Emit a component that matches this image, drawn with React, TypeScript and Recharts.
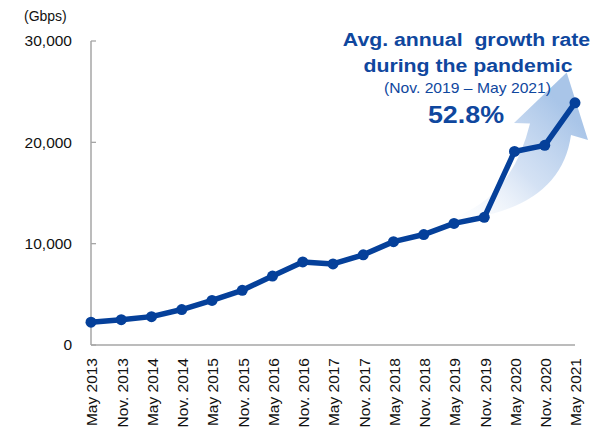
import { LineChart, Line, XAxis, YAxis } from 'recharts'

const periods = [
  'May 2013', 'Nov. 2013', 'May 2014', 'Nov. 2014', 'May 2015', 'Nov. 2015',
  'May 2016', 'Nov. 2016', 'May 2017', 'Nov. 2017', 'May 2018', 'Nov. 2018',
  'May 2019', 'Nov. 2019', 'May 2020', 'Nov. 2020', 'May 2021',
]
const traffic = [
  2250, 2500, 2800, 3500, 4400, 5400,
  6800, 8200, 8000, 8900, 10200, 10900,
  12000, 12600, 19100, 19700, 23900,
]
const yTicks = [0, 10000, 20000, 30000]
const unitLabel = '(Gbps)'
const noteTitle = ['Avg. annual  growth rate', 'during the pandemic']
const notePeriod = '(Nov. 2019 \u2013 May 2021)'
const noteRate = '52.8%'

const data = periods.map((period, i) => ({ period, value: traffic[i] }))

const FONT = '"Liberation Sans", Arial, sans-serif'
const LINE = '#05409a'
const NOTE = '#0f479e'
const AXIS = '#a6a6a6'

function YTick({ x, y, payload }: any) {
  return (
    <g>
      <line x1={x + 19} y1={y} x2={x + 24} y2={y} stroke={AXIS} strokeWidth={1.3} />
      <text x={x} y={y} dy="0.35em" textAnchor="end" fontSize={15.5} fontFamily={FONT} fill="#111">
        {payload.value.toLocaleString('en-US')}
      </text>
    </g>
  )
}

function XTick({ x, y, payload }: any) {
  return (
    <g transform={`translate(${x + 1},${y + 13}) rotate(-90)`}>
      <text x={0} y={0} dy="0.35em" textAnchor="end" fontSize={15.5} fontFamily={FONT} fill="#111">
        {payload.value}
      </text>
    </g>
  )
}

// wide-set annotation text, as in the original slide
function Note({ cx, y, size, bold, children }: any) {
  return (
    <text
      transform={`translate(${cx},${y}) scale(1.12,1)`}
      textAnchor="middle"
      fontSize={size}
      fontWeight={bold ? 'bold' : 'normal'}
      fontFamily={FONT}
      fill={NOTE}
      style={{ whiteSpace: 'pre' }}
    >
      {children}
    </text>
  )
}

export default function App() {
  return (
    <div style={{ position: 'fixed', left: 0, top: 0, width: 612, height: 431, background: '#fff' }}>
      <svg width={612} height={431} style={{ position: 'absolute', left: 0, top: 0 }}>
        <defs>
          <linearGradient id="arrowFill" x1="0" y1="1" x2="1" y2="0">
            <stop offset="0%" stopColor="#ffffff" stopOpacity={0} />
            <stop offset="45%" stopColor="#c9daf1" stopOpacity={0.8} />
            <stop offset="80%" stopColor="#a9c5e8" stopOpacity={1} />
          </linearGradient>
        </defs>
        <path
          d="M 438 222 Q 510 206 530 123.5 L 514 123 L 566.7 72.5 L 588 140 L 571 135 Q 560 215 438 222 Z"
          fill="url(#arrowFill)"
        />
        <text x={24} y={21} fontSize={14} fontFamily={FONT} fill="#111">{unitLabel}</text>
        <Note cx={466.5} y={46} size={19} bold>{noteTitle[0]}</Note>
        <Note cx={468} y={71.5} size={19} bold>{noteTitle[1]}</Note>
        <Note cx={467.5} y={93} size={14}>{notePeriod}</Note>
        <Note cx={466} y={122.5} size={24} bold>{noteRate}</Note>
      </svg>
      <div style={{ position: 'absolute', left: 0, top: 0 }}>
        <LineChart width={612} height={431} data={data} margin={{ top: 41, right: 37, bottom: 0, left: 0 }}>
          <XAxis
            dataKey="period"
            interval={0}
            height={86}
            tickSize={0}
            tickMargin={0}
            tickLine={false}
            axisLine={{ stroke: AXIS, strokeWidth: 1.5 }}
            padding={{ left: 0, right: 0 }}
            tick={<XTick />}
          />
          <YAxis
            width={91}
            domain={[0, 30000]}
            ticks={yTicks}
            tickSize={0}
            tickMargin={19}
            tickLine={false}
            axisLine={{ stroke: AXIS, strokeWidth: 1.5 }}
            tick={<YTick />}
          />
          <Line
            type="linear"
            dataKey="value"
            stroke={LINE}
            strokeWidth={5.5}
            strokeLinejoin="round"
            dot={{ r: 5.5, fill: LINE, stroke: LINE, strokeWidth: 0 }}
            isAnimationActive={false}
          />
        </LineChart>
      </div>
    </div>
  )
}
